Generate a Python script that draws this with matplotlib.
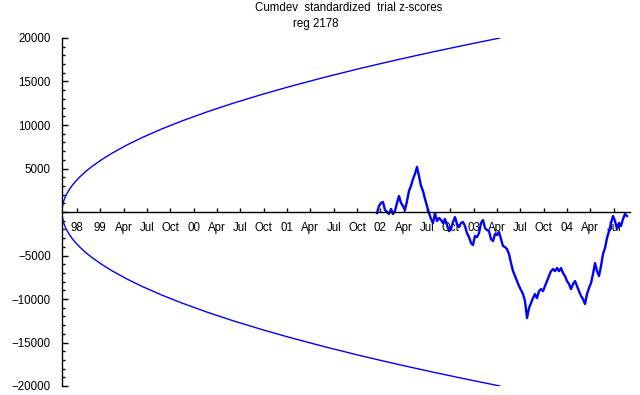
import numpy as np
import matplotlib
matplotlib.use("Agg")
import matplotlib.pyplot as plt
from matplotlib.ticker import MultipleLocator, FixedLocator, FuncFormatter

plt.rcParams['font.family'] = ['Liberation Sans', 'DejaVu Sans']

title_line1 = "Cumdev  standardized  trial z-scores"
title_line2 = "reg 2178"

# quarterly ticks (decimal years) and their labels
tick_start = 1998.75
tick_labels = ["98", "99", "Apr", "Jul", "Oct", "00", "Apr", "Jul", "Oct", "01",
               "Apr", "Jul", "Oct", "02", "Apr", "Jul", "Oct", "03", "Apr", "Jul",
               "Oct", "04", "Apr", "Jul"]

# probability envelope (decimal year, value)
env_x = [1998.589, 1998.594, 1998.600, 1998.610, 1998.621, 1998.643, 1998.664,
         1998.696, 1998.739, 1998.782, 1998.846, 1998.910, 1999.018, 1999.125,
         1999.285, 1999.446, 1999.660, 1999.875, 2000.143, 2000.410, 2000.732,
         2001.053, 2001.428, 2001.803, 2002.178, 2002.553, 2002.928, 2003.282]
env_y = [0, 676, 956, 1351, 1655, 2137, 2528, 3022, 3575, 4054, 4682, 5234,
         6044, 6757, 7704, 8547, 9556, 10468, 11507, 12459, 13515, 14492,
         15556, 16552, 17490, 18381, 19231, 20000]

# cumulative deviation of the registry
walk_start = 2001.964
walk_end = 2004.643
walk_y = [-120, 690, 1040, 1150, 230, 0, -230, 350, -230, 120,
          1040, 1840, 1040, 690, 230, 1270, 2420, 2990, 3800, 4370,
          5180, 4140, 2990, 2420, 1500, 690, -120, -800, -1270, -120,
          -1040, -690, -920, -1270, -800, -1500, -2190, -1960, -1150, -580,
          -1380, -1730, -1270, -1150, -1610, -2420, -2880, -3570, -3800, -2760,
          -2880, -2420, -1270, -920, -1840, -2070, -2190, -3110, -3340, -2530,
          -2650, -2300, -3110, -3910, -4030, -4260, -4830, -5870, -6790, -7360,
          -7940, -8510, -8970, -9430, -10240, -12190, -11040, -10470, -9890, -9430,
          -9890, -9090, -8860, -9090, -8510, -7940, -7360, -6790, -6560, -6790,
          -6440, -6790, -6440, -7020, -7360, -7940, -8280, -8860, -8280, -7940,
          -8510, -9090, -9660, -10000, -10580, -9430, -8740, -8170, -7130, -5870,
          -6790, -7360, -6210, -4830, -4140, -2990, -2190, -1270, -460, -1040,
          -1960, -1270, -1610, -800, -230, -460]

x_left = 1998.589
x_right = 2004.675
y_min, y_max = -20000, 20000

blue = "#0000ff"

fig = plt.figure(figsize=(6.4, 3.95), dpi=100)
ax = fig.add_axes([62 / 640, 1 - 386 / 395, (630 - 62) / 640, (386 - 38) / 395])

ax.plot(env_x, env_y, color=blue, lw=1.0)
ax.plot(env_x, [-v for v in env_y], color=blue, lw=1.0)
walk_x = np.linspace(walk_start, walk_end, len(walk_y))
ax.plot(walk_x, walk_y, color=blue, lw=1.7)

ax.set_xlim(x_left, x_right)
ax.set_ylim(y_min, y_max)

for s in ['top', 'right']:
    ax.spines[s].set_visible(False)
ax.spines['bottom'].set_position(('data', 0))
ax.spines['left'].set_position(('data', x_left))
ax.spines['bottom'].set_linewidth(1.0)
ax.spines['left'].set_linewidth(1.0)

ticks = [tick_start + 0.25 * k for k in range(len(tick_labels))]
ax.xaxis.set_major_locator(FixedLocator(ticks))
ax.set_xticklabels(tick_labels)
ax.tick_params(axis='x', direction='in', length=3, width=1, pad=7, labelsize=8.3)

ax.yaxis.set_major_locator(MultipleLocator(5000))
ax.yaxis.set_minor_locator(MultipleLocator(1000))
ax.yaxis.set_major_formatter(FuncFormatter(
    lambda v, p: "" if v == 0 else ("\u2212" + str(int(-v)) if v < 0 else str(int(v)))))
ax.tick_params(axis='y', which='major', direction='in', length=4, width=1, pad=8, labelsize=8.3)
ax.tick_params(axis='y', which='minor', direction='in', length=2.2, width=1)

fig.text(349 / 640, 1 - 8 / 395, title_line1, ha='center', va='center', fontsize=8.3)
fig.text(316 / 640, 1 - 24 / 395, title_line2, ha='center', va='center', fontsize=8.3)

fig.savefig("out.png", dpi=100)
